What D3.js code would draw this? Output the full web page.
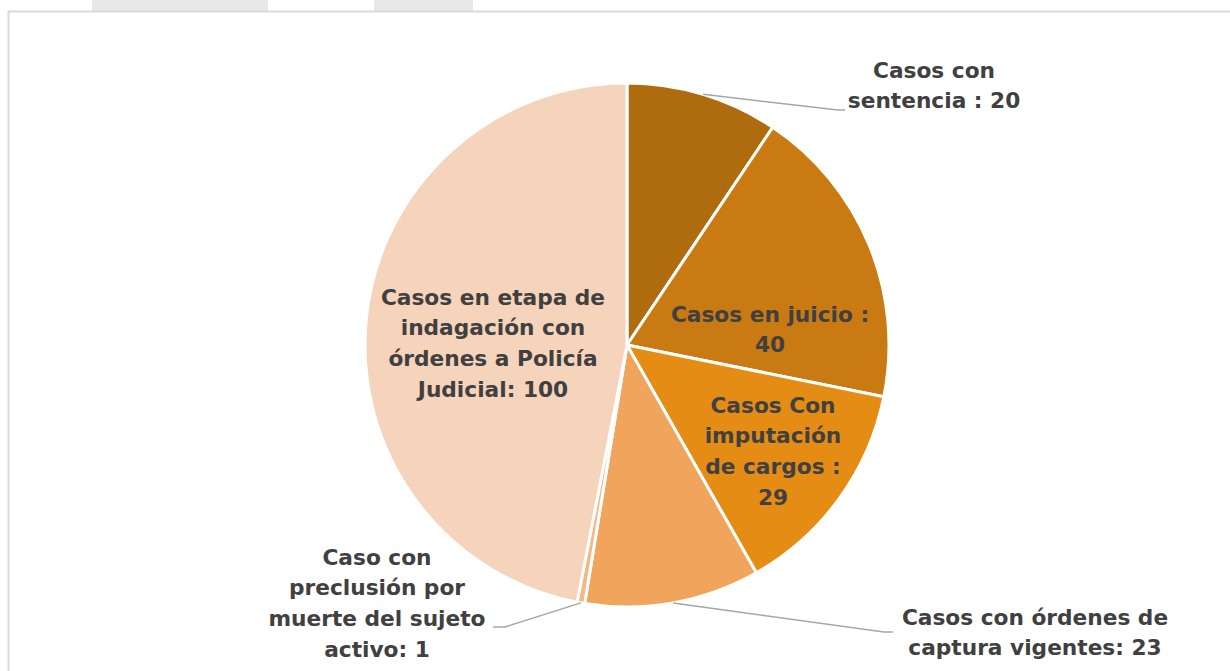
<!DOCTYPE html>
<html><head><meta charset="utf-8">
<script src="https://cdn.jsdelivr.net/npm/d3@7"></script>
<style>html,body{margin:0;padding:0;background:#fff;overflow:hidden}</style>
</head><body>
<svg id="chart" width="1230" height="671"></svg>
<script>
const categories = [
  "Casos con sentencia",
  "Casos en juicio",
  "Casos Con imputación de cargos",
  "Casos con órdenes de captura vigentes",
  "Caso con preclusión por muerte del sujeto activo",
  "Casos en etapa de indagación con órdenes a Policía Judicial"
];
const values = [20, 40, 29, 23, 1, 100];
const labelLines = [
  ["Casos con", "sentencia : 20"],
  ["Casos en juicio :", "40"],
  ["Casos Con", "imputación", "de cargos :", "29"],
  ["Casos con órdenes de", "captura vigentes: 23"],
  ["Caso con", "preclusión por", "muerte del sujeto", "activo: 1"],
  ["Casos en etapa de", "indagación con", "órdenes a Policía", "Judicial: 100"]
];
const colors = ["#AF6C0E", "#CA7A12", "#E48C14", "#F1A55C", "#F4B887", "#F6D3BB"];

// layout
const cx = 627, cy = 345, R = 262;
const lineH = 30.7;
const labelPos = [
  {x: 934, y: 70, outside: true, elbow: [838, 110], end: [845, 110]},
  {x: 770, y: 314},
  {x: 773, y: 405},
  {x: 1035, y: 617, outside: true, elbow: [884, 632], end: [893, 632]},
  {x: 377, y: 557, outside: true, elbow: [505, 627], end: [493, 627]},
  {x: 493, y: 297}
];

const svg = d3.select("#chart");
// decorative top strips and frame
svg.append("rect").attr("x", 92).attr("y", 0).attr("width", 176).attr("height", 11).attr("fill", "#e8e8e7");
svg.append("rect").attr("x", 374).attr("y", 0).attr("width", 99).attr("height", 11).attr("fill", "#e8e8e7");
svg.append("path").attr("d", "M8.5,680 L8.5,11.5 L1240,11.5").attr("fill", "none").attr("stroke", "#d9d9d9").attr("stroke-width", 2);

const pie = d3.pie().sort(null).value(d => d)(values);
const arc = d3.arc().innerRadius(0).outerRadius(R);
const g = svg.append("g").attr("transform", `translate(${cx},${cy})`);
g.selectAll("path.slice").data(pie).join("path")
  .attr("class", "slice")
  .attr("d", arc)
  .attr("fill", (d, i) => colors[i])
  .attr("stroke", "#fff").attr("stroke-width", 3).attr("stroke-linejoin", "round");

// leader lines
const outerArc = d3.arc().innerRadius(R).outerRadius(R);
pie.forEach((d, i) => {
  const p = labelPos[i];
  if (!p.outside) return;
  const c = outerArc.centroid(d);
  const start = [c[0] + cx, c[1] + cy];
  svg.append("polyline")
    .attr("points", [start, p.elbow, p.end].map(q => q.join(",")).join(" "))
    .attr("fill", "none").attr("stroke", "#a6a6a6").attr("stroke-width", 1.5);
});

// labels
labelLines.forEach((lines, i) => {
  const p = labelPos[i];
  const t = svg.append("text")
    .attr("text-anchor", "middle")
    .attr("font-family", "'DejaVu Sans', Verdana, sans-serif")
    .attr("font-weight", "bold")
    .attr("font-size", 21.7)
    .attr("fill", "#404040");
  lines.forEach((ln, k) => {
    t.append("tspan").attr("x", p.x).attr("y", p.y + k * lineH)
      .attr("dominant-baseline", "central").text(ln);
  });
});
</script>
</body></html>
